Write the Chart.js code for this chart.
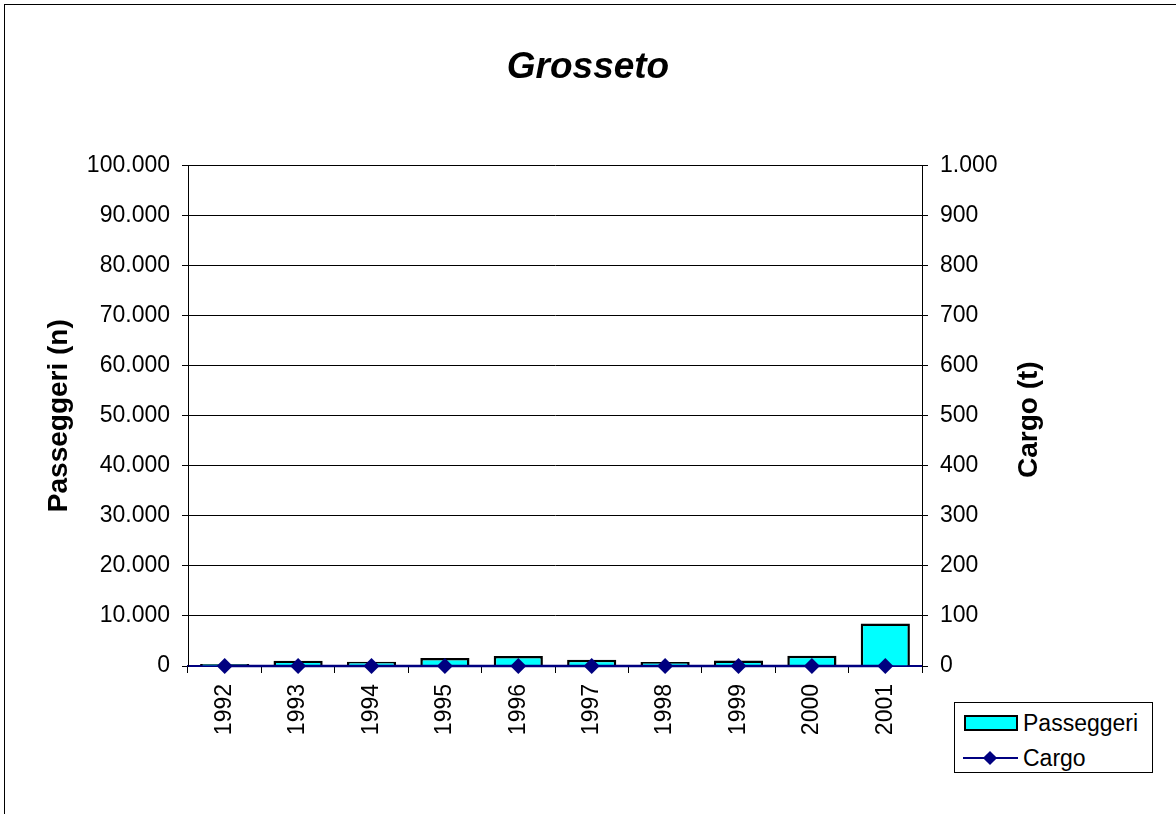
<!DOCTYPE html>
<html>
<head>
<meta charset="utf-8">
<script src="https://cdn.jsdelivr.net/npm/chart.js@4.4.1/dist/chart.umd.min.js"></script>
<style>
  html, body { margin: 0; padding: 0; background: #fff; overflow: hidden; }
  .frame { position: absolute; left: 4px; top: 4px; width: 1200px; height: 900px; border: 1px solid #000; }
  .wrap { position: absolute; left: 0; top: 0; width: 1176px; height: 814px; }
  .legend {
    position: absolute; left: 954px; top: 702px; width: 197px; height: 69px;
    border: 1px solid #000; background: #fff;
    font-family: "Liberation Sans", Arial, sans-serif; font-size: 23px; color: #000;
  }
  .legend .row { position: absolute; left: 0; height: 30px; line-height: 30px; }
  .legend .swatch { position: absolute; left: 9px; top: 7px; width: 50px; height: 12px; background: #00ffff; border: 2px solid #000; }
  .legend .lline { position: absolute; left: 8px; top: 14px; width: 55px; height: 2px; background: #000080; }
  .legend .diamond { position: absolute; left: 30px; top: 10px; width: 10px; height: 10px; background: #000080; transform: rotate(45deg); }
  .legend .label { position: absolute; left: 68px; white-space: nowrap; }
</style>
</head>
<body>
<div class="frame"></div>
<div class="wrap">
  <canvas id="grossetoChart" width="1176" height="814"></canvas>
</div>
<div class="legend">
  <div class="row" style="top: 5px;"><div class="swatch"></div><span class="label">Passeggeri</span></div>
  <div class="row" style="top: 40px;"><div class="lline"></div><div class="diamond"></div><span class="label">Cargo</span></div>
</div>

<script>
const years = ['1992', '1993', '1994', '1995', '1996', '1997', '1998', '1999', '2000', '2001'];
const passeggeri = [400, 1050, 850, 1600, 2000, 1250, 800, 1100, 2050, 8500];
const cargo = [0, 0, 0, 0, 0, 0, 0, 0, 0, 0];
const passeggeriTicks = [0, 10000, 20000, 30000, 40000, 50000, 60000, 70000, 80000, 90000, 100000];
const cargoTicks = [0, 100, 200, 300, 400, 500, 600, 700, 800, 900, 1000];

const FONT = '"Liberation Sans", Arial, sans-serif';

function itNumber(v) {
  return String(Math.round(v)).replace(/\B(?=(\d{3})+(?!\d))/g, '.');
}

// right axis title reads bottom-to-top like the left one
const rightTitle = {
  id: 'rightTitle',
  afterDraw(chart) {
    const { ctx, chartArea } = chart;
    ctx.save();
    ctx.translate(1029, (chartArea.top + chartArea.bottom) / 2 + 4);
    ctx.rotate(-Math.PI / 2);
    ctx.font = 'bold 28px ' + FONT;
    ctx.fillStyle = '#000';
    ctx.textAlign = 'center';
    ctx.textBaseline = 'middle';
    ctx.fillText('Cargo (t)', 0, 0);
    ctx.restore();
  }
};

new Chart(document.getElementById('grossetoChart'), {
  type: 'bar',
  data: {
    labels: years,
    datasets: [
      {
        type: 'line',
        label: 'Cargo',
        data: cargo,
        yAxisID: 'y1',
        borderColor: '#000080',
        backgroundColor: '#000080',
        borderWidth: 2.5,
        pointStyle: 'rectRot',
        pointRadius: 8,
        pointBorderWidth: 0,
        tension: 0,
        clip: false,
        order: 0
      },
      {
        label: 'Passeggeri',
        data: passeggeri,
        yAxisID: 'y',
        backgroundColor: '#00ffff',
        borderColor: '#000',
        borderWidth: 2.5,
        barPercentage: 0.67,
        categoryPercentage: 1,
        order: 1
      }
    ]
  },
  options: {
    responsive: false,
    animation: false,
    layout: { padding: { left: 0, right: 0, top: 0, bottom: 48 } },
    plugins: {
      legend: { display: false },
      tooltip: { enabled: false },
      title: {
        display: true,
        text: 'Grosseto',
        color: '#000',
        font: { family: FONT, size: 37, style: 'italic', weight: 'bold' },
        padding: { top: 46, bottom: 75 }
      }
    },
    scales: {
      x: {
        offset: true,
        grid: { display: true, offset: true, drawOnChartArea: false, drawTicks: true, tickLength: 7, color: '#000' },
        border: { display: true, color: '#000080', width: 2 },
        ticks: { color: '#000', font: { family: FONT, size: 23 }, minRotation: 90, maxRotation: 90, padding: 11 },
        afterFit(scale) { scale.height = 100; }
      },
      y: {
        position: 'left',
        min: 0,
        max: 100000,
        afterBuildTicks(scale) { scale.ticks = passeggeriTicks.map(v => ({ value: v })); },
        grid: { color: '#000', lineWidth: 1, tickLength: 6 },
        border: { color: '#000', width: 1 },
        ticks: { color: '#000', font: { family: FONT, size: 23 }, padding: 12, callback: v => itNumber(v) },
        title: {
          display: true,
          text: 'Passeggeri (n)',
          color: '#000',
          font: { family: FONT, size: 28, weight: 'bold' },
          padding: { top: 42, bottom: 4 }
        },
        afterFit(scale) { scale.width = 188; }
      },
      y1: {
        position: 'right',
        min: 0,
        max: 1000,
        afterBuildTicks(scale) { scale.ticks = cargoTicks.map(v => ({ value: v })); },
        grid: { drawOnChartArea: false, color: '#000', tickLength: 6 },
        border: { color: '#000', width: 1 },
        ticks: { color: '#000', font: { family: FONT, size: 23 }, padding: 12, callback: v => itNumber(v) },
        afterFit(scale) { scale.width = 254; }
      }
    }
  },
  plugins: [rightTitle]
});
</script>
</body>
</html>
